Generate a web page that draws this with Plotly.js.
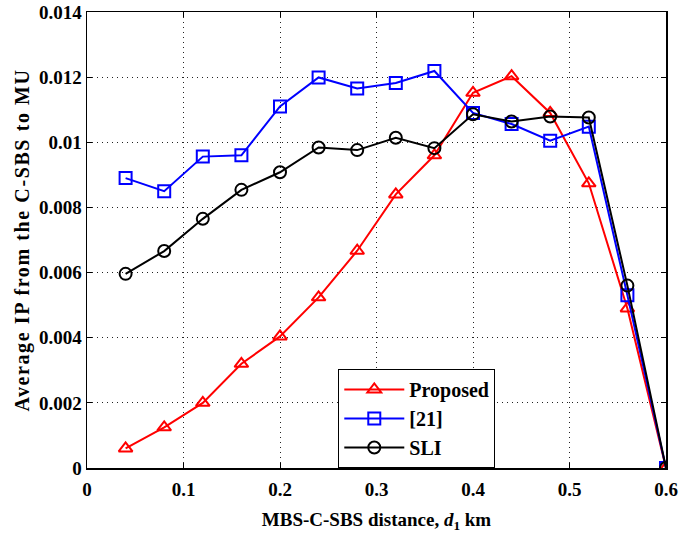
<!DOCTYPE html>
<html>
<head>
<meta charset="utf-8">
<script src="https://cdn.plot.ly/plotly-3.0.1.min.js"></script>
<style>html,body{margin:0;padding:0;background:#fff;}#chart{width:681px;height:533px;}</style>
</head>
<body>
<div id="chart"></div>
<script>
const distance = [0.04,0.08,0.12,0.16,0.20,0.24,0.28,0.32,0.36,0.40,0.44,0.48,0.52,0.56,0.60];
const proposed = [0.0006,0.00125,0.002,0.0032,0.00404,0.00524,0.00667,0.0084,0.0096,0.01152,0.01203,0.0109,0.00874,0.0049,0.0];
const ref21    = [0.0089,0.0085,0.00956,0.0096,0.0111,0.01199,0.01165,0.01182,0.01219,0.0109,0.01056,0.01005,0.01048,0.0053,0.0];
const sli      = [0.00596,0.00666,0.00765,0.00854,0.00908,0.00984,0.00976,0.01014,0.00982,0.01086,0.01064,0.01079,0.01076,0.0056,0.0];
const xTicks = [0,0.1,0.2,0.3,0.4,0.5,0.6];
const xTickText = ['0','0.1','0.2','0.3','0.4','0.5','0.6'];
const yTicks = [0,0.002,0.004,0.006,0.008,0.01,0.012,0.014];
const yTickText = ['0','0.002','0.004','0.006','0.008','0.01','0.012','0.014'];
const seriesNames = ['Proposed','[21]','SLI'];

const F = 'Liberation Serif, Times New Roman, serif';
const bold = s => '<b>' + s + '</b>';
function tr(y, name, color, symbol){
  return {x: distance, y: y, name: bold(name), type:'scatter', mode:'lines+markers',
    line:{color:color, width:2},
    marker:{symbol:symbol, size:12, color:color, line:{color:color, width:2}}};
}
const data = [
  tr(proposed, seriesNames[0], '#ff0000', 'triangle-up-open'),
  tr(ref21, seriesNames[1], '#0000ff', 'square-open'),
  tr(sli, seriesNames[2], '#000000', 'circle-open')
];
const axisCommon = {showline:true, linecolor:'#000', linewidth:1.5, mirror:'ticks',
  ticks:'inside', ticklen:5, tickcolor:'#000', showgrid:true, gridcolor:'#222',
  griddash:'1px,4px', gridwidth:1, zeroline:false,
  tickfont:{family:F, size:19, color:'#000'}};
const layout = {
  width:681, height:533,
  margin:{l:87, r:15, t:12, b:65},
  paper_bgcolor:'#fff', plot_bgcolor:'#fff',
  font:{family:F, color:'#000'},
  showlegend:true,
  legend:{x:0.434, y:0, xanchor:'left', yanchor:'bottom', bgcolor:'#fff',
    bordercolor:'#000', borderwidth:1, font:{family:F, size:20, color:'#000'},
    tracegroupgap:0, itemwidth:60, entrywidth:140},
  xaxis: Object.assign({}, axisCommon, {range:[0,0.6], tickvals:xTicks, ticktext:xTickText.map(bold),
    ticklabelstandoff:4,
    title:{text:'<b>MBS-C-SBS distance, <i>d</i><sub>1</sub> km</b>', font:{family:F, size:19, color:'#000'}, standoff:16}}),
  yaxis: Object.assign({}, axisCommon, {range:[0,0.014], tickvals:yTicks, ticktext:yTickText.map(bold),
    title:{text:'<b>Average IP from the C-SBS to MU</b>', font:{family:F, size:20, color:'#000'}, standoff:4}})
};
Plotly.newPlot('chart', data, layout, {displayModeBar:false, staticPlot:true}).then(function(gd){
  const yt = gd.querySelector('.ytitle');
  if (yt) { yt.setAttribute('letter-spacing', '1.6px'); }
});
</script>
</body>
</html>
